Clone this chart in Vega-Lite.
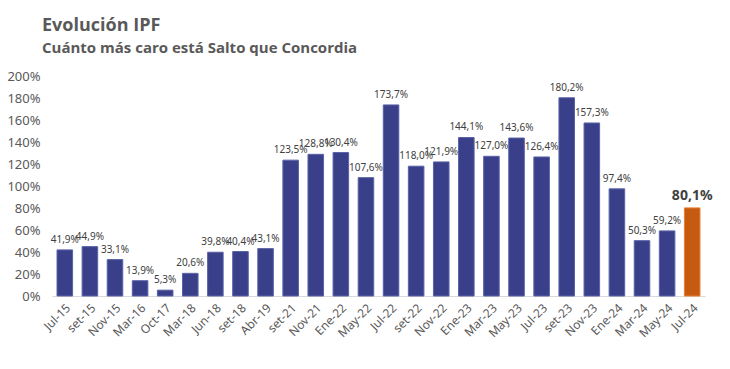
{
  "$schema": "https://vega.github.io/schema/vega-lite/v6.json",
  "autosize": {"type": "none"},
  "width": 653,
  "height": 220,
  "padding": {"left": 52, "top": 76, "right": 25, "bottom": 73},
  "background": "white",
  "title": {
    "text": "Evolución IPF",
    "subtitle": "Cuánto más caro está Salto que Concordia",
    "anchor": "start",
    "frame": "group",
    "dx": -10,
    "offset": 14,
    "font": "Open Sans",
    "fontSize": 18,
    "fontWeight": "bold",
    "color": "#595959",
    "subtitleFont": "Open Sans",
    "subtitleFontSize": 15,
    "subtitleFontWeight": "bold",
    "subtitleColor": "#595959",
    "subtitlePadding": 6
  },
  "config": {
    "view": {"stroke": null},
    "locale": {"number": {"decimal": ",", "thousands": ".", "grouping": [3], "currency": ["", "€"]}}
  },
  "data": {
    "values": [
      {"period": "Jul-15", "value": 0.419},
      {"period": "set-15", "value": 0.449},
      {"period": "Nov-15", "value": 0.331},
      {"period": "Mar-16", "value": 0.139},
      {"period": "Oct-17", "value": 0.053},
      {"period": "Mar-18", "value": 0.206},
      {"period": "Jun-18", "value": 0.398},
      {"period": "set-18", "value": 0.404},
      {"period": "Abr-19", "value": 0.431},
      {"period": "set-21", "value": 1.235},
      {"period": "Nov-21", "value": 1.288},
      {"period": "Ene-22", "value": 1.304},
      {"period": "May-22", "value": 1.076},
      {"period": "Jul-22", "value": 1.737},
      {"period": "set-22", "value": 1.180},
      {"period": "Nov-22", "value": 1.219},
      {"period": "Ene-23", "value": 1.441},
      {"period": "Mar-23", "value": 1.270},
      {"period": "May-23", "value": 1.436},
      {"period": "Jul-23", "value": 1.264},
      {"period": "set-23", "value": 1.802},
      {"period": "Nov-23", "value": 1.573},
      {"period": "Ene-24", "value": 0.974},
      {"period": "Mar-24", "value": 0.503},
      {"period": "May-24", "value": 0.592},
      {"period": "Jul-24", "value": 0.801}
    ]
  },
  "encoding": {
    "x": {
      "field": "period",
      "type": "nominal",
      "sort": null,
      "scale": {"paddingInner": 0.38, "paddingOuter": 0.2},
      "axis": {
        "title": null,
        "labelAngle": -45,
        "labelFont": "Noto Sans",
        "labelFontSize": 12,
        "labelColor": "#595959",
        "domainColor": "#d9d9d9",
        "ticks": false,
        "labelPadding": 6
      }
    },
    "y": {
      "field": "value",
      "type": "quantitative",
      "scale": {"domain": [0, 2]},
      "axis": {
        "title": null,
        "format": ".0%",
        "values": [0, 0.2, 0.4, 0.6, 0.8, 1, 1.2, 1.4, 1.6, 1.8, 2],
        "grid": false,
        "domain": false,
        "ticks": false,
        "labelFont": "Noto Sans",
        "labelFontSize": 13,
        "labelColor": "#595959",
        "labelPadding": 12
      }
    }
  },
  "layer": [
    {
      "mark": {"type": "bar", "strokeWidth": 1},
      "encoding": {
        "color": {
          "condition": {"test": "datum.period === 'Jul-24'", "value": "#C55A11"},
          "value": "#394089"
        },
        "stroke": {
          "condition": {"test": "datum.period === 'Jul-24'", "value": "#ED7D31"},
          "value": "#5a62a8"
        }
      }
    },
    {
      "transform": [{"filter": "datum.period !== 'Jul-24'"}],
      "mark": {"type": "text", "baseline": "bottom", "dy": -5, "font": "Noto Sans", "fontSize": 10, "color": "#404040"},
      "encoding": {"text": {"field": "value", "type": "quantitative", "format": ".1%"}}
    },
    {
      "transform": [{"filter": "datum.period === 'Jul-24'"}],
      "mark": {"type": "text", "baseline": "bottom", "dy": -5, "font": "Noto Sans", "fontSize": 14, "fontWeight": "bold", "color": "#404040"},
      "encoding": {"text": {"field": "value", "type": "quantitative", "format": ".1%"}}
    }
  ]
}
